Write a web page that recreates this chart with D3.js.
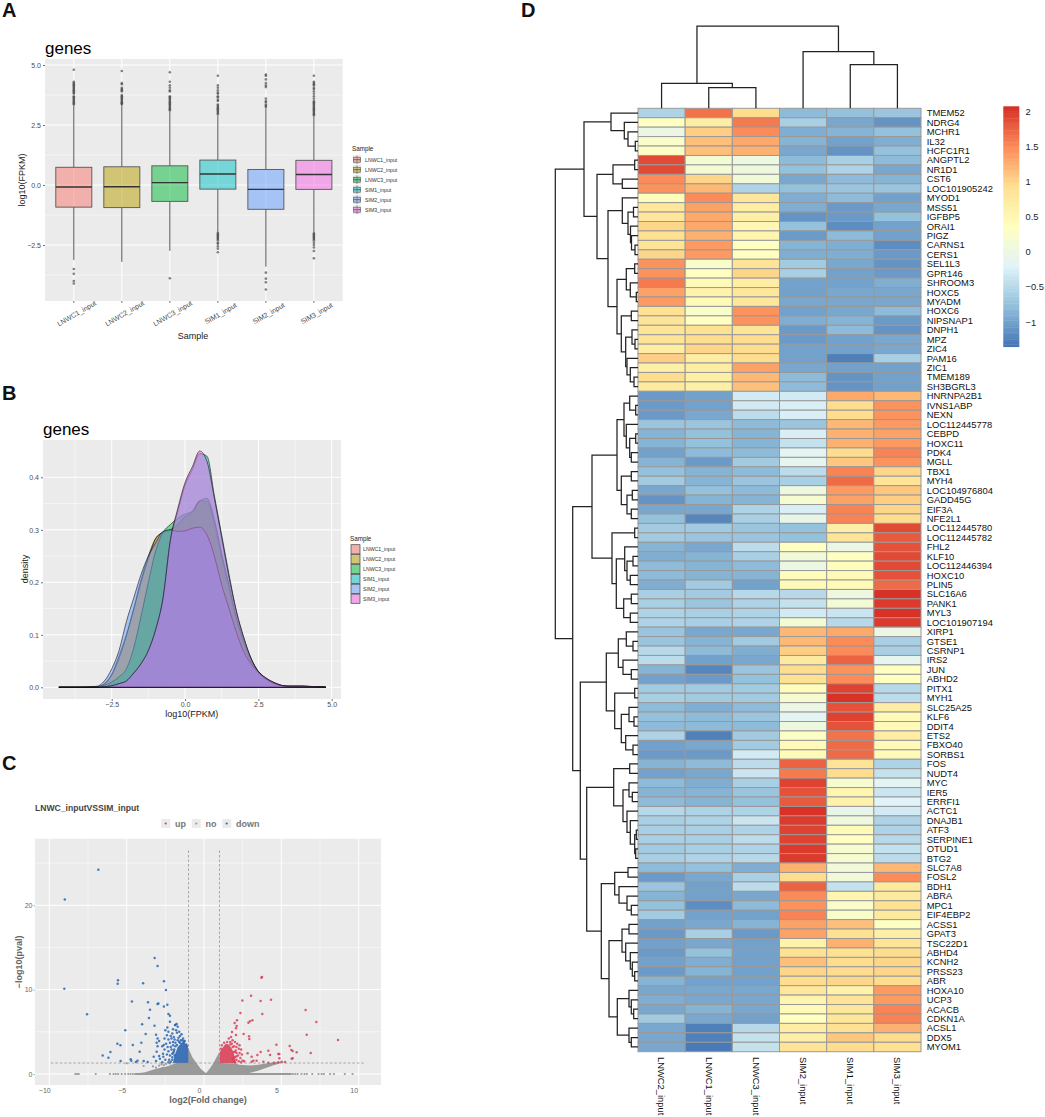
<!DOCTYPE html>
<html><head><meta charset="utf-8">
<script src="https://cdn.jsdelivr.net/npm/d3@7"></script>
<style>
html,body{margin:0;padding:0;background:#fff}
svg{display:block}
text{font-family:"Liberation Sans",Arial,sans-serif}
</style></head><body><div id="chart"></div>
<script>
// ---------- shared ----------
const sampleNames = ["LNWC1_input","LNWC2_input","LNWC3_input","SIM1_input","SIM2_input","SIM3_input"];
const sampleColors = ["#F8766D","#B79F00","#00BA38","#00BFC4","#619CFF","#F564E3"];

// ---------- panel A ----------
const boxQ3 = [0.74,0.76,0.80,1.04,0.65,1.03];
const boxMedian = [-0.08,-0.07,0.10,0.46,-0.18,0.44];
const boxQ1 = [-0.92,-0.94,-0.68,-0.17,-1.01,-0.18];
const whiskerHigh = [3.3,3.35,3.05,2.9,3.2,2.85];
const whiskerLow = [-3.12,-3.2,-2.74,-1.99,-3.4,-1.95];
const outliersLNWC1 = [4.8,4.3,4.25,4.2,4.15,4.1,4.05,4.0,3.95,3.9,3.85,3.8,3.7,3.65,3.6,3.55,3.5,3.45,3.4,3.35,-3.5,-3.7,-4.0,-4.1];
const outliersLNWC2 = [4.75,4.25,4.2,4.05,4.0,3.95,3.9,3.75,3.7,3.65,3.6,3.55,3.5,3.45,3.4,3.38];
const outliersLNWC3 = [4.7,4.3,4.15,4.05,3.95,3.9,3.7,3.65,3.6,3.55,3.5,3.45,3.4,3.35,3.3,3.25,3.2,3.15,3.1,-3.88];
const outliersSIM1 = [4.55,4.15,4.05,3.95,3.85,3.8,3.7,3.65,3.55,3.5,3.35,3.3,3.25,3.2,3.15,3.1,3.05,3.0,2.95,-2.0,-2.05,-2.1,-2.15,-2.2,-2.25,-2.3,-2.4,-2.45,-2.55,-2.65,-2.8];
const outliersSIM2 = [4.6,4.55,4.4,4.25,4.15,4.08,3.6,3.5,3.45,3.35,3.3,3.25,-3.65,-3.9,-4.05,-4.35];
const outliersSIM3 = [4.55,4.3,4.25,4.2,4.15,4.05,4.0,3.9,3.8,3.7,3.6,3.5,3.45,3.4,3.35,3.3,3.25,3.2,3.15,3.1,3.05,3.0,2.95,2.9,-2.0,-2.05,-2.1,-2.15,-2.2,-2.25,-2.3,-2.4,-2.5,-2.6,-2.75,-3.05];
const boxOutliers = [outliersLNWC1,outliersLNWC2,outliersLNWC3,outliersSIM1,outliersSIM2,outliersSIM3];
const boxYTicks = [-2.5,0,2.5,5];
const boxYMinor = [-3.75,-1.25,1.25,3.75];

// ---------- panel B ----------
const densityX = [-4.3,-3.5,-3,-2.75,-2.5,-2.25,-2,-1.75,-1.5,-1.25,-1,-0.75,-0.5,-0.25,0,0.25,0.5,0.75,1,1.25,1.5,1.75,2,2.25,2.5,2.75,3,3.5,4,4.8];
const densityLNWC1 = [0,0,0.001,0.007,0.025,0.06,0.10,0.15,0.205,0.25,0.284,0.295,0.30,0.31,0.325,0.33,0.355,0.35,0.31,0.245,0.19,0.13,0.085,0.05,0.03,0.017,0.009,0.002,0.002,0];
const densityLNWC2 = [0,0,0.001,0.006,0.023,0.055,0.098,0.148,0.20,0.245,0.283,0.295,0.30,0.31,0.325,0.335,0.355,0.355,0.315,0.25,0.19,0.13,0.085,0.05,0.03,0.017,0.009,0.002,0.002,0];
const densityLNWC3 = [0,0,0.001,0.004,0.01,0.02,0.035,0.075,0.135,0.20,0.26,0.295,0.31,0.322,0.33,0.335,0.355,0.36,0.32,0.255,0.195,0.135,0.09,0.055,0.03,0.017,0.009,0.002,0.002,0];
const densitySIM1 = [0,0,0,0.001,0.003,0.007,0.012,0.027,0.045,0.07,0.11,0.17,0.28,0.335,0.385,0.415,0.445,0.44,0.365,0.29,0.215,0.145,0.095,0.055,0.03,0.018,0.01,0.002,0.002,0];
const densitySIM2 = [0,0,0.002,0.012,0.035,0.07,0.125,0.17,0.215,0.25,0.275,0.297,0.30,0.297,0.298,0.303,0.305,0.29,0.25,0.195,0.15,0.105,0.068,0.045,0.028,0.016,0.008,0.002,0.002,0];
const densitySIM3 = [0,0,0,0.001,0.003,0.007,0.012,0.027,0.045,0.07,0.11,0.17,0.28,0.34,0.39,0.42,0.45,0.43,0.36,0.285,0.21,0.145,0.095,0.055,0.03,0.018,0.01,0.002,0.002,0];
const densitySeries = [densityLNWC1,densityLNWC2,densityLNWC3,densitySIM1,densitySIM2,densitySIM3];
const densXTicks = [-2.5,0,2.5,5];
const densXMinor = [-3.75,-1.25,1.25,3.75];
const densYTicks = [0,0.1,0.2,0.3,0.4];
const densYMinor = [0.05,0.15,0.25,0.35];

// ---------- panel C ----------
const volcanoBlue = [[-6.83,24.2],[-9.0,20.7],[-9.03,10.1],[-7.56,7.07],[-3.19,13.75],[-3.0,12.8],[-5.56,11.1],[-5.58,10.7],[-3.94,10.75],[-2.59,11.0],[-2.46,9.96],[-4.66,8.6],[-3.62,8.5],[-3.0,8.3],[-2.95,8.35],[-2.59,8.0],[-2.37,8.2],[-3.49,7.63],[-2.3,7.1],[-2.2,6.9],[-3.56,6.64],[-4.0,5.9],[-3.2,5.73],[-5.09,5.2],[-3.77,4.74],[-3.1,4.66],[-3.0,4.2],[-4.6,3.44],[-5.6,3.6],[-5.4,3.4],[-4.05,3.7],[-4.16,2.65],[-6.05,2.6],[-6.55,2.2],[-6.18,1.94],[-5.39,1.54],[-4.74,1.74],[-4.7,1.58],[-4.3,1.58],[-4.4,1.42],[-3.9,1.54],[-3.64,1.42],[-3.25,2.05],[-3.06,3.7],[-2.9,3.9],[-3.0,3.3],[-3.06,2.65],[-2.9,2.13],[-2.6,3.44],[-2.63,2.05],[-2.5,5.2],[-2.37,5.5],[-2.2,6.2],[-1.87,5.8],[-1.77,5.93],[-1.85,5.8],[-1.7,5.6],[-2.0,5.3],[-1.8,5.2],[-1.6,5.0],[-1.45,4.7],[-2.3,5.0],[-2.05,4.8],[-1.75,4.9],[-1.55,4.5],[-1.35,4.2],[-1.25,3.9],[-2.4,4.6],[-2.15,4.5],[-1.95,4.4],[-1.65,4.3],[-1.5,4.0],[-1.3,3.7],[-1.15,3.5],[-2.55,4.2],[-2.3,4.1],[-2.1,4.2],[-1.9,4.1],[-1.7,4.0],[-2.45,3.6],[-2.2,3.7],[-2.0,3.8],[-1.85,3.7],[-1.6,3.8],[-2.7,3.3],[-2.35,3.2],[-2.15,3.2],[-2.0,3.4],[-1.85,3.3],[-2.55,2.9],[-2.3,2.7],[-2.1,2.9],[-1.95,2.7],[-2.4,2.3],[-2.2,2.2],[-2.05,2.4],[-2.65,2.4],[-2.85,1.8],[-2.5,1.7],[-2.25,1.7],[-2.05,1.7],[-2.7,1.4],[-2.3,1.4],[-3.1,1.55],[-1.9,2.2],[-2.15,1.45],[-1.1,3.3],[-1.3,3.85],[-1.55,3.7],[-1.75,3.45],[-1.92,2.9],[-1.98,2.5],[-2.05,2.0],[-1.4,4.0]];
const volcanoRed = [[3.75,11.5],[3.71,11.42],[3.04,9.29],[2.48,8.7],[3.66,8.66],[4.33,8.81],[6.57,7.59],[2.35,7.23],[3.77,7.11],[2.13,6.36],[1.98,6.05],[2.11,5.69],[2.07,5.42],[2.87,6.09],[2.97,6.25],[3.13,6.36],[7.26,6.17],[1.81,4.98],[2.56,4.74],[2.07,4.62],[2.91,4.47],[2.93,4.15],[6.64,4.66],[8.66,4.03],[4.68,3.48],[5.54,3.32],[4.16,2.77],[5.65,2.85],[5.73,2.73],[5.99,2.57],[6.9,2.49],[2.82,2.45],[3.45,2.25],[3.66,2.6],[3.08,2.05],[4.27,2.25],[4.8,2.37],[4.87,2.37],[4.87,1.86],[5.67,1.82],[5.73,1.86],[3.08,1.46],[3.4,1.58],[3.19,1.58],[3.84,1.46],[4.16,1.34],[4.53,1.34],[4.8,1.38],[5.02,1.46],[5.24,1.42],[1.75,4.4],[1.6,4.2],[1.85,4.0],[2.0,3.8],[2.15,3.6],[2.3,3.4],[2.1,3.2],[2.25,3.0],[2.4,2.9],[1.95,3.3],[1.8,3.6],[1.7,3.8],[2.05,2.8],[2.3,2.5],[2.45,2.3],[2.2,2.2],[2.1,2.5],[2.0,2.0],[2.35,1.9],[2.5,1.6],[2.25,1.5],[2.4,1.4],[2.1,1.7],[1.9,2.6],[1.85,1.8],[2.6,1.5],[1.95,1.5],[2.0,1.35],[1.1,3.0],[1.3,3.7],[1.5,3.8],[1.7,3.5],[1.85,3.2],[2.0,2.6],[2.1,2.1],[1.15,3.4]];
const volcanoGrey = [[-5.0,1.27],[-3.9,0.95],[-3.3,0.9],[-2.9,1.0],[-2.75,1.15],[-2.6,1.05],[-2.7,0.7],[-3.1,0.75],[-2.45,1.2],[-2.2,1.25]];
const greyZeroX = [-8.32,-8.2,-8.1,-7.0,-6.08,-5.85,-5.7,-5.55,-5.32,-5.1,-4.9,-4.75,-4.6,-4.45,5.75,5.9,6.05,6.3,6.5,6.65,7.0,7.4,7.6,7.75,8.15,8.4,9.1,9.6];
const greyZeroBand = [-4.46,5.67];
const greyMassX = [-4.4,-3.8,-3.3,-2.8,-2.3,-1.8,-1.02,-1,-0.75,-0.47,-0.2,0.13,0.35,0.6,0.8,1,1.02,2,2.3,3,3.5,4,4.5,5,5.2];
const greyMassHi = [0.05,0.2,0.5,0.75,0.95,1.3,1.3,3.0,2.0,1.25,0.6,0.08,0.6,1.25,1.95,2.65,1.3,1.25,1.1,1.0,1.1,1.25,1.4,1.45,1.3];
const greyMassLo = [0,0,0,0,0,0,0,0,0,0,0,0,0,0,0,0,0,0,0,0.15,0.4,0.7,1.05,1.3,1.3];
const blueMassX = [-2.0,-1.9,-1.7,-1.4,-1.15,-1.0];
const blueMassHi = [1.4,2.2,3.2,3.8,3.5,3.0];
const redMassX = [1.02,1.2,1.4,1.6,1.8,1.95,2.05];
const redMassHi = [2.6,3.1,3.6,3.5,3.0,2.3,1.5];
const sigFloor = 1.3;
const volcanoXTicks = [-10,-5,0,5,10];
const volcanoXMinor = [-7.5,-2.5,2.5,7.5];
const volcanoYTicks = [0,10,20];
const volcanoYMinor = [5,15,25];
const foldCuts = [-1,1];
const cutXExtent = [-9.9,10.45];
const cutYTop = 26.5;
const volcanoLegend = ["up","no","down"];
const volcanoColors = ["#DC3F58","#999999","#2C66B2"];

// ---------- panel D ----------
const heatColumns = ["LNWC2_input","LNWC1_input","LNWC3_input","SIM2_input","SIM1_input","SIM3_input"];
const heatGenes = ["TMEM52","NDRG4","MCHR1","IL32","HCFC1R1","ANGPTL2","NR1D1","CST6","LOC101905242","MYOD1","MSS51","IGFBP5","ORAI1","PIGZ","CARNS1","CERS1","SEL1L3","GPR146","SHROOM3","HOXC5","MYADM","HOXC6","NIPSNAP1","DNPH1","MPZ","ZIC4","PAM16","ZIC1","TMEM189","SH3BGRL3","HNRNPA2B1","IVNS1ABP","NEXN","LOC112445778","CEBPD","HOXC11","PDK4","MGLL","TBX1","MYH4","LOC104976804","GADD45G","EIF3A","NFE2L1","LOC112445780","LOC112445782","FHL2","KLF10","LOC112446394","HOXC10","PLIN5","SLC16A6","PANK1","MYL3","LOC101907194","XIRP1","GTSE1","CSRNP1","IRS2","JUN","ABHD2","PITX1","MYH1","SLC25A25","KLF6","DDIT4","ETS2","FBXO40","SORBS1","FOS","NUDT4","MYC","IER5","ERRFI1","ACTC1","DNAJB1","ATF3","SERPINE1","OTUD1","BTG2","SLC7A8","FOSL2","BDH1","ABRA","MPC1","EIF4EBP2","ACSS1","GPAT3","TSC22D1","ABHD4","KCNH2","PRSS23","ABR","HOXA10","UCP3","ACACB","CDKN1A","ACSL1","DDX5","MYOM1"];
const heatValues = [
[-.55,1.65,.95,-.8,-.75,-.7],[.35,.7,1.6,-.6,-.95,-1.1],[0,1.05,1.5,-.9,-.85,-.75],[.25,1.15,1.3,-.85,-1,-.9],[.3,1.15,1.25,-.95,-1.1,-.75],
[1.9,.15,.03,-.8,-.6,-.8],[1.9,.15,.05,-.75,-.55,-.95],[1.5,1,.1,-.95,-.8,-.85],[1.45,1.2,-.55,-.75,-.7,-.7],[.4,1.5,.8,-.9,-.8,-1],
[.8,1.35,.7,-.9,-1.05,-.95],[.8,1.3,.65,-1.1,-1.05,-.75],[1,1.3,.5,-.75,-1.15,-1],[.9,1.25,.55,-1.05,-.8,-1],[.85,1.4,.35,-.85,-.9,-1.15],
[1,1.4,.35,-.9,-.9,-1.05],[1.45,.25,.85,-.65,-.95,-1.1],[1.45,.35,1,-.6,-1,-1.05],[1.6,.45,.7,-1,-1,-.9],[1.35,.6,.8,-1,-.95,-.95],
[1.4,.45,.8,-.95,-.95,-.95],[.9,.25,1.45,-1,-.95,-.8],[.85,.35,1.45,-.9,-.85,-1.05],[.85,.9,.85,-1.05,-.8,-1.1],[.85,.95,.95,-1.05,-1,-.95],
[.7,1,.95,-1,-1,-.95],[1.05,.7,.95,-1,-1.25,-.6],[.65,.7,1.35,-.95,-1,-1],[.95,.65,1.2,-.8,-1.1,-1],[.75,.65,1.15,-.8,-1.1,-1],
[-1.05,-1,-.3,-.3,1.3,1.2],[-1.05,-1,-.3,-.25,.95,1.45],[-1.05,-.95,-.45,-.25,.95,1.45],[-.7,-.7,-.8,-.7,1.2,1.4],[-.85,-.75,-.85,-.25,1.25,1.35],
[-.85,-.75,-.85,-.4,1.25,1.4],[-1,-.8,-.8,-.15,.95,1.55],[-.85,-1.05,-.65,-.1,1.1,1.45],[-.75,-.85,-.8,-.45,1.55,1],[-.65,-.85,-.7,-.6,1.7,.85],
[-.95,-.75,-.8,.05,1.4,1.1],[-1.1,-.85,-.85,.2,1.35,1.05],[-.95,-.95,-.55,-.25,1.55,1],[-.75,-1.2,-.6,-.05,1.55,.95],[-.65,-.65,-.7,-.75,.65,1.9],
[-.65,-.7,-.7,-.75,.85,1.8],[-.85,-.95,-.45,.35,0,1.85],[-.9,-.85,-.6,.1,.35,1.9],[-.8,-.85,-.8,0,.4,1.9],[-.8,-.85,-.85,.4,.45,1.85],
[-.9,-.65,-1,.45,.45,1.7],[-.6,-.65,-.5,-.5,.05,2.05],[-.6,-.7,-.55,-.4,.15,2],[-.55,-.6,-.55,-.3,-.35,2.05],[-.55,-.6,-.55,.15,-.5,2],
[-.7,-.95,-.95,1.2,1.3,0],[-.7,-.85,-.65,1.2,1.5,-.6],[-.5,-.8,-.9,1.05,1.5,-.6],[-.45,-1,-.95,.75,1.75,-.1],[-.85,-1.2,-.7,.95,1.45,.35],
[-1,-1.05,-.75,.9,1.5,.35],[-.65,-.65,-.65,.4,1.95,-.5],[-.6,-.65,-.65,.2,2.05,-.45],[-.8,-.9,-.8,0,1.85,.7],[-.75,-.8,-.7,-.15,1.95,.45],
[-.8,-.8,-.8,.05,1.85,.45],[-.55,-1.25,-.65,.3,1.65,.7],[-1,-.95,-.65,.45,1.7,.45],[-1.05,-1.05,-.3,.45,1.7,.45],[-.85,-.8,-.45,1.75,.85,-.55],
[-1,-.95,-.35,1.6,.95,-.4],[-.8,-.9,-.6,1.95,.2,-.15],[-.85,-.85,-.7,1.85,.55,-.35],[-.8,-.85,-.75,1.8,.6,-.2],[-.5,-.55,-.55,2.05,-.05,-.3],
[-.6,-.55,-.35,2,.05,-.55],[-.6,-.6,-.55,1.95,.45,-.55],[-.6,-.6,-.45,1.95,.35,-.5],[-.65,-.6,-.55,2,.2,-.4],[-.6,-.55,-.5,2,.2,-.45],
[-.8,-.75,-.9,1.25,.1,1.2],[-1.05,-.95,-.6,.95,.1,1.5],[-.7,-1,-.45,1.75,-.4,.75],[-.85,-1,-.95,1.5,.55,.75],[-.75,-1.15,-.8,1.45,.25,.9],
[-.65,-1,-1,1.55,.25,.75],[-1,-.95,-.85,1.35,1.15,.35],[-1.05,-.6,-1.05,1.35,.9,.65],[-1,-.95,-1,.6,1.25,.85],[-1.05,-.75,-1,.9,.9,.95],
[-1,-.9,-1,1.15,.95,1],[-1.05,-.85,-1,1,.95,1],[-.85,-1,-1,.95,1,.95],[-.95,-.95,-.95,.8,.6,1.4],[-.9,-.95,-.95,.55,.85,1.4],
[-.95,-.85,-.95,.45,.8,1.55],[-.65,-.95,-1,.35,.8,1.55],[-.95,-1.25,-.5,.7,.9,1.25],[-.95,-1.25,-.4,.65,1.1,.95],[-.95,-1.3,-.4,.85,.95,.9]];
const heatStops = [-1.33,-0.77,-0.2,0.36,0.93,1.49,2.06];
const heatPalette = ["#4575B4","#91BFDB","#E0F3F8","#FFFFBF","#FEE090","#FC8D59","#D73027"];
const heatLegendTicks = [-1,-0.5,0,0.5,1,1.5,2];
// merge trees: [height, left, right]; 0 is a leaf, taken in label order
const rowTree = [82.7,
 [54,
  [27,0,[13.7,0,[10,0,[2.7,0,0]]]],
  [41,
   [25,[3.3,0,0],[15.7,0,0]],
   [30,
    [15.7,0,[10,[4.5,0,0],[7.5,0,[6.5,0,[3,0,0]]]]],
    [21,
     [11.7,[3.3,0,0],[7.7,0,[1.7,0,0]]],
     [16.7,[6.7,0,0],[12.3,[6,0,[3,0,0]],[11,0,[7.7,0,[4,0,0]]]]]]]]],
 [65.3,
  [46,
   [21,
    [14,[8.3,0,[2.3,0,0]],[11.7,0,[8.3,[2.3,0,0],[6.7,0,0]]]],
    [16.7,[6.7,0,0],[11,[5.7,0,0],[6.7,0,0]]]],
   [26,
    [3.3,0,0],
    [21.7,
     [13.3,0,[11,[5,0,0],[7.7,0,0]]],
     [14.3,[6.7,0,0],[7.7,0,0]]]]],
  [57.7,
   [31.7,
    [19.7,[11.7,0,[5,0,0]],[15,0,[6.7,0,0]]],
    [23.3,[3.3,0,0],[16.7,[9,0,[4,0,0]],[12.3,0,[5,0,0]]]]],
   [51.3,
    [24.3,[8.3,0,0],[15,[9,0,[5.7,0,0]],[11,0,[7.7,0,[3.3,[1.7,0,0],[2.3,0,0]]]]]],
    [36.7,
     [23.3,[10,0,0],[19,0,[11,0,[6.7,0,0]]]],
     [29,
      [16,[9,0,0],[12.3,0,[7.7,0,[5.7,0,[3.3,0,0]]]]],
      [20.7,[9,0,[6.7,0,[4.3,0,0]]],[9,0,[6.7,0,0]]]]]]]]];
const colTree = [82.3,[25,0,[20.6,0,0]],[56.6,0,[43.6,0,0]]];

// ---------- drawing ----------
const svg = d3.select("#chart").append("svg").attr("width",1045).attr("height",1117).attr("viewBox","0 0 1045 1117");
const sansFill = "#4d4d4d";

function letter(t,x,y){svg.append("text").attr("x",x).attr("y",y).attr("font-size",20).attr("font-weight","bold").attr("fill","#111").text(t);}
letter("A",2,17);letter("B",2,400);letter("C",2,770);letter("D",521,17);

function panel(box,color){
  return svg.append("rect").attr("x",box.l).attr("y",box.t).attr("width",box.r-box.l).attr("height",box.b-box.t).attr("fill",color||"#EBEBEB");
}
function gridX(vals,x,box,w,c){svg.append("g").selectAll("line").data(vals).join("line").attr("x1",x).attr("x2",x).attr("y1",box.t).attr("y2",box.b).attr("stroke",c||"#fff").attr("stroke-width",w);}
function gridY(vals,y,box,w,c){svg.append("g").selectAll("line").data(vals).join("line").attr("y1",y).attr("y2",y).attr("x1",box.l).attr("x2",box.r).attr("stroke",c||"#fff").attr("stroke-width",w);}
function styleAxis(g,size,color,tick){
  g.select(".domain").remove();
  g.selectAll(".tick line").attr("stroke",tick||"#333").attr("stroke-width",0.7);
  g.selectAll(".tick text").attr("font-size",size).attr("fill",color).attr("font-family",'"Liberation Sans",Arial,sans-serif');
}

// ----- A
const boxA = {l:45,r:342.7,t:59,b:301};
const xA = d3.scaleBand().domain(sampleNames).range([boxA.l,boxA.r]).paddingInner(0).paddingOuter(0.1);
const yA = d3.scaleLinear().domain([-4.83,5.25]).range([boxA.b,boxA.t]);
panel(boxA);
gridY(boxYMinor,yA,boxA,0.5);gridY(boxYTicks,yA,boxA,1);
gridX(sampleNames,d=>xA(d)+xA.bandwidth()/2,boxA,1);
const gA = svg.append("g");
sampleNames.forEach((s,i)=>{
  const cx = xA(s)+xA.bandwidth()/2, hw = xA.bandwidth()*0.375;
  const g = gA.append("g");
  g.append("line").attr("x1",cx).attr("x2",cx).attr("y1",yA(whiskerHigh[i])).attr("y2",yA(boxQ3[i])).attr("stroke","#555").attr("stroke-width",1);
  g.append("line").attr("x1",cx).attr("x2",cx).attr("y1",yA(boxQ1[i])).attr("y2",yA(whiskerLow[i])).attr("stroke","#555").attr("stroke-width",1);
  g.selectAll("circle").data(boxOutliers[i]).join("circle").attr("cx",cx).attr("cy",d=>yA(d)).attr("r",1.3).attr("fill","#333").attr("fill-opacity",0.6);
  g.append("rect").attr("x",cx-hw).attr("width",2*hw).attr("y",yA(boxQ3[i])).attr("height",yA(boxQ1[i])-yA(boxQ3[i])).attr("fill",sampleColors[i]).attr("fill-opacity",0.5).attr("stroke","#555").attr("stroke-width",0.9);
  g.append("line").attr("x1",cx-hw).attr("x2",cx+hw).attr("y1",yA(boxMedian[i])).attr("y2",yA(boxMedian[i])).attr("stroke","#333").attr("stroke-width",1.4);
});
const axYA = svg.append("g").attr("transform",`translate(${boxA.l},0)`).call(d3.axisLeft(yA).tickValues(boxYTicks).tickSize(2).tickPadding(2).tickFormat(d3.format(".1f")));
styleAxis(axYA,7,sansFill);
axYA.selectAll(".tick text").text(d=>d3.format(".1f")(d).replace("-","−"));
const axXA = svg.append("g").attr("transform",`translate(0,${boxA.b})`).call(d3.axisBottom(xA).tickSize(2).tickPadding(2));
styleAxis(axXA,7,sansFill);
axXA.selectAll(".tick text").attr("text-anchor","middle").attr("dy",0).attr("y",0).attr("transform","translate(4,14.5) rotate(-30)");
svg.append("text").attr("x",45).attr("y",54).attr("font-size",17).attr("fill","#000").text("genes");
svg.append("text").attr("x",193).attr("y",339).attr("text-anchor","middle").attr("font-size",9).attr("fill","#222").text("Sample");
svg.append("text").attr("transform","translate(25,180) rotate(-90)").attr("text-anchor","middle").attr("font-size",9).attr("fill","#222").text("log10(FPKM)");
svg.append("text").attr("x",352).attr("y",150.7).attr("font-size",6.3).attr("fill","#222").text("Sample");
const legYA = d3.scalePoint().domain(sampleNames).range([159.7,209.7]);
sampleNames.forEach((s,i)=>{
  const y = legYA(s), g = svg.append("g");
  g.append("rect").attr("x",353).attr("y",y-4.6).attr("width",8).attr("height",9.2).attr("fill","#EBEBEB");
  g.append("line").attr("x1",357).attr("x2",357).attr("y1",y-4.3).attr("y2",y+4.3).attr("stroke","#555").attr("stroke-width",0.6);
  g.append("rect").attr("x",353.5).attr("y",y-2.5).attr("width",7).attr("height",5).attr("fill",sampleColors[i]).attr("fill-opacity",0.5).attr("stroke","#555").attr("stroke-width",0.6);
  g.append("line").attr("x1",353.5).attr("x2",360.5).attr("y1",y).attr("y2",y).attr("stroke","#444").attr("stroke-width",0.7);
  g.append("text").attr("x",365).attr("y",y+1.8).attr("font-size",5.2).attr("fill","#333").text(s);
});

// ----- B
const boxB = {l:43,r:341,t:440,b:699};
const xB = d3.scaleLinear().domain([-2.5,5]).range([111.7,331.7]);
const yB = d3.scaleLinear().domain([0,0.4]).range([687.3,477.3]);
panel(boxB);
gridX(densXMinor,xB,boxB,0.5);gridY(densYMinor,yB,boxB,0.5);
gridX(densXTicks,xB,boxB,1);gridY(densYTicks,yB,boxB,1);
const areaB = d3.area().x((d,i)=>xB(densityX[i])).y0(yB(0)).y1(d=>yB(d)).curve(d3.curveMonotoneX);
svg.append("g").selectAll("path").data(densitySeries).join("path").attr("d",areaB)
  .attr("fill",(d,i)=>sampleColors[i]).attr("fill-opacity",0.5).attr("stroke","#111").attr("stroke-width",0.7).attr("stroke-opacity",0.85);
const axYB = svg.append("g").attr("transform",`translate(${boxB.l},0)`).call(d3.axisLeft(yB).tickValues(densYTicks).tickSize(2).tickPadding(2).tickFormat(d3.format(".1f")));
styleAxis(axYB,7,sansFill);
const axXB = svg.append("g").attr("transform",`translate(0,${boxB.b})`).call(d3.axisBottom(xB).tickValues(densXTicks).tickSize(2).tickPadding(1.5).tickFormat(d=>d3.format(".1f")(d).replace("-","−")));
styleAxis(axXB,7,sansFill);
svg.append("text").attr("x",43).attr("y",435).attr("font-size",17).attr("fill","#000").text("genes");
svg.append("text").attr("x",191.7).attr("y",717).attr("text-anchor","middle").attr("font-size",9).attr("fill","#222").text("log10(FPKM)");
svg.append("text").attr("transform","translate(28,569) rotate(-90)").attr("text-anchor","middle").attr("font-size",9).attr("fill","#222").text("density");
svg.append("text").attr("x",350).attr("y",541).attr("font-size",6.3).attr("fill","#222").text("Sample");
const legYB = d3.scalePoint().domain(sampleNames).range([549.3,598.7]);
sampleNames.forEach((s,i)=>{
  const y = legYB(s);
  svg.append("rect").attr("x",351).attr("y",y-4.6).attr("width",9).attr("height",9.2).attr("fill","#EBEBEB");
  svg.append("rect").attr("x",351).attr("y",y-4.6).attr("width",9).attr("height",9.2).attr("fill",sampleColors[i]).attr("fill-opacity",0.5).attr("stroke","#444").attr("stroke-width",0.7);
  svg.append("text").attr("x",363).attr("y",y+1.8).attr("font-size",5.2).attr("fill","#333").text(s);
});

// ----- C
const boxC = {l:35,r:381,t:838.7,b:1085};
const xC = d3.scaleLinear().domain([-10,10]).range([49.3,358.7]);
const yC = d3.scaleLinear().domain([0,20]).range([1074,905.3]);
panel(boxC);
gridX(volcanoXMinor,xC,boxC,0.5);gridY(volcanoYMinor,yC,boxC,0.5);
gridX(volcanoXTicks,xC,boxC,1);gridY(volcanoYTicks,yC,boxC,1);
const pC = svg.append("g");
pC.append("path").datum(greyMassX).attr("fill","#999").attr("d",d3.area().x(d=>xC(d)).y0((d,i)=>yC(greyMassLo[i])).y1((d,i)=>yC(greyMassHi[i])));
pC.append("line").attr("x1",xC(greyZeroBand[0])).attr("x2",xC(greyZeroBand[1])).attr("y1",yC(0)).attr("y2",yC(0)).attr("stroke","#999").attr("stroke-width",2.2);
pC.append("g").selectAll("circle").data(greyZeroX).join("circle").attr("cx",d=>xC(d)).attr("cy",yC(0)).attr("r",1.1).attr("fill","#999");
pC.append("g").selectAll("circle").data(volcanoGrey).join("circle").attr("cx",d=>xC(d[0])).attr("cy",d=>yC(d[1])).attr("r",1.1).attr("fill","#999");
pC.append("path").datum(blueMassX).attr("fill",volcanoColors[2]).attr("fill-opacity",0.9).attr("d",d3.area().x(d=>xC(d)).y0(yC(sigFloor)).y1((d,i)=>yC(blueMassHi[i])));
pC.append("path").datum(redMassX).attr("fill",volcanoColors[0]).attr("fill-opacity",0.9).attr("d",d3.area().x(d=>xC(d)).y0(yC(sigFloor)).y1((d,i)=>yC(redMassHi[i])));
pC.append("g").selectAll("circle").data(volcanoBlue).join("circle").attr("cx",d=>xC(d[0])).attr("cy",d=>yC(d[1])).attr("r",1.25).attr("fill",volcanoColors[2]).attr("fill-opacity",0.85);
pC.append("g").selectAll("circle").data(volcanoRed).join("circle").attr("cx",d=>xC(d[0])).attr("cy",d=>yC(d[1])).attr("r",1.25).attr("fill",volcanoColors[0]).attr("fill-opacity",0.85);
pC.append("g").selectAll("line").data(foldCuts).join("line").attr("x1",d=>xC(d)).attr("x2",d=>xC(d)).attr("y1",yC(cutYTop)).attr("y2",yC(sigFloor)).attr("stroke","#8a8a8a").attr("stroke-width",0.7).attr("stroke-dasharray","2.5,2");
pC.append("line").attr("x1",xC(cutXExtent[0])).attr("x2",xC(cutXExtent[1])).attr("y1",yC(sigFloor)).attr("y2",yC(sigFloor)).attr("stroke","#8a8a8a").attr("stroke-width",0.7).attr("stroke-dasharray","2.5,2");
const axYC = svg.append("g").attr("transform",`translate(${boxC.l},0)`).call(d3.axisLeft(yC).tickValues(volcanoYTicks).tickSize(1.5).tickPadding(1));
styleAxis(axYC,7,"#666","#888");
const axXC = svg.append("g").attr("transform",`translate(0,${boxC.b})`).call(d3.axisBottom(xC).tickValues(volcanoXTicks).tickSize(0).tickPadding(3).tickFormat(d=>String(d).replace("-","−")));
styleAxis(axXC,7,"#666","#888");
axXC.selectAll(".tick text").attr("dx",-5);
svg.append("text").attr("x",35).attr("y",811).attr("font-size",8.6).attr("font-weight","bold").attr("fill","#444").text("LNWC_inputVSSIM_input");
svg.append("text").attr("x",208).attr("y",1103).attr("text-anchor","middle").attr("font-size",9).attr("font-weight","bold").attr("fill","#666").text("log2(Fold change)");
svg.append("text").attr("transform","translate(22,962) rotate(-90)").attr("text-anchor","middle").attr("font-size",9).attr("font-weight","bold").attr("fill","#666").text("−log10(pval)");
const legKeyX = d3.scaleOrdinal().domain(volcanoLegend).range([165.7,196.3,226.7]);
volcanoLegend.forEach((s,i)=>{
  const x = legKeyX(s);
  svg.append("rect").attr("x",x-4.5).attr("y",819).attr("width",9).attr("height",9).attr("fill","#EBEBEB");
  svg.append("circle").attr("cx",x).attr("cy",823.5).attr("r",1.1).attr("fill",volcanoColors[i]);
  svg.append("text").attr("x",x+9.3).attr("y",827).attr("font-size",9).attr("font-weight","bold").attr("fill","#777").text(s);
});

// ----- D
const xD = d3.scaleBand().domain(heatColumns).range([638,921]);
const yD = d3.scaleBand().domain(heatGenes).range([108.3,1051.7]);
const colorD = d3.scaleLinear().domain(heatStops).range(heatPalette);
svg.append("g").selectAll("g").data(heatValues).join("g").each(function(row,r){
  d3.select(this).selectAll("rect").data(row).join("rect")
    .attr("x",(d,c)=>xD(heatColumns[c])).attr("y",yD(heatGenes[r])).attr("width",xD.bandwidth()).attr("height",yD.bandwidth())
    .attr("fill",d=>colorD(d)).attr("stroke","#999").attr("stroke-width",1);
});
svg.append("g").selectAll("text").data(heatGenes).join("text").attr("x",926.7).attr("y",d=>yD(d)+yD.bandwidth()/2+3.3).attr("font-size",9.4).attr("fill","#111").text(d=>d);
svg.append("g").selectAll("text").data(heatColumns).join("text").attr("transform",d=>`translate(${xD(d)+xD.bandwidth()/2-3.2},1057) rotate(90)`).attr("font-size",9.4).attr("fill","#111").text(d=>d);

function dendro(tree,leaves,band,heightScale,vertical){
  const segs=[];let k=0;
  (function walk(n){
    if(n===0){const name=leaves[k++];return {p:band(name)+band.bandwidth()/2,h:0};}
    const a=walk(n[1]),b=walk(n[2]),h=n[0];
    segs.push([[a.p,a.h],[a.p,h],[b.p,h],[b.p,b.h]]);
    return {p:(a.p+b.p)/2,h};
  })(tree);
  const line=d3.line().x(d=>vertical?d[0]:heightScale(d[1])).y(d=>vertical?heightScale(d[1]):d[0]);
  svg.append("g").selectAll("path").data(segs).join("path").attr("d",line).attr("fill","none").attr("stroke","#222").attr("stroke-width",1.25);
}
dendro(rowTree,heatGenes,yD,d3.scaleLinear().domain([0,82.7]).range([638,555.3]),false);
dendro(colTree,heatColumns,xD,d3.scaleLinear().domain([0,82.3]).range([108.3,26]),true);

const yLeg = d3.scaleLinear().domain([-1,2]).range([322.3,111.7]);
const legendSteps = d3.range(100).map(i=>heatStops[0]+(heatStops[6]-heatStops[0])*i/99);
const legendStep = (heatStops[6]-heatStops[0])/99;
svg.append("g").selectAll("rect").data(legendSteps).join("rect").attr("x",1003.3).attr("width",16).attr("y",d=>yLeg(d+legendStep/2)).attr("height",d=>yLeg(d)-yLeg(d+legendStep)+0.4).attr("fill",d=>colorD(d));
svg.append("g").selectAll("text").data(heatLegendTicks).join("text").attr("x",1025.5).attr("y",d=>yLeg(d)+3.2).attr("font-size",9.3).attr("fill","#222").text(d=>String(d).replace("-","−"));
</script></body></html>
